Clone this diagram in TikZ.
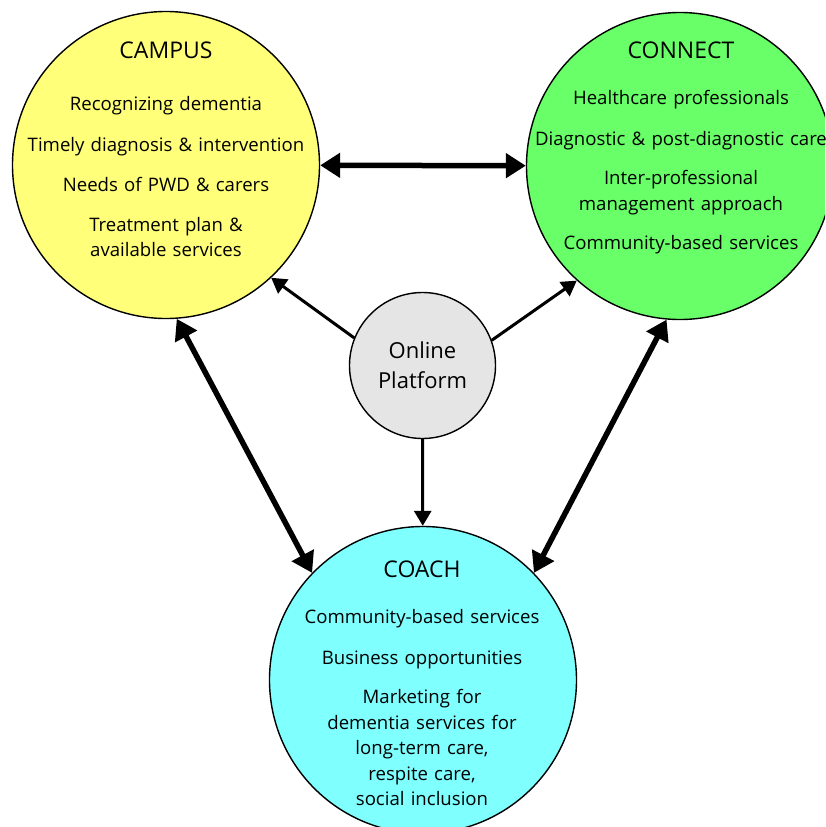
\documentclass[tikz,border=0pt]{standalone}
\usepackage{fontspec}
\setmainfont{Open Sans}
\usetikzlibrary{arrows.meta}
\definecolor{campusyellow}{RGB}{255,255,122}
\definecolor{connectgreen}{RGB}{104,255,104}
\definecolor{coachcyan}{RGB}{128,255,255}
\definecolor{platformgray}{RGB}{229,229,229}
\newcommand{\hubtitle}[1]{{\fontsize{23}{25}\selectfont #1}}
\begin{document}
\begin{tikzpicture}[x=1pt, y=-1pt,
  every node/.style={align=center, font=\fontsize{18.6}{25.5}\selectfont},
  hub/.style={draw, circle, line width=1.4pt, minimum size=307pt, inner sep=0pt},
  hubtext/.style={anchor=base, text width=360pt, inner sep=0pt},
  bigarrow/.style={{Triangle[length=20pt,width=24pt]}-{Triangle[length=20pt,width=24pt]}, line width=5.5pt},
  smallarrow/.style={-{Triangle[length=15pt,width=17pt]}, line width=3pt}]
\useasboundingbox (0,0) rectangle (825,827);
\clip (0,0) rectangle (825,827);

% the three programme circles and the platform
\node (campus) [hub, fill=campusyellow] at (166,165) {};
\node (connect) [hub, fill=connectgreen] at (680,166) {};
\node (coach) [hub, fill=coachcyan] at (423,680) {};
\node (online) [draw, circle, line width=1.4pt, fill=platformgray, minimum size=146pt, inner sep=0pt,
  font=\fontsize{22}{30}\selectfont] at (422.5,365.5) {Online\\Platform};

\node (campustext) [hubtext] at (166,58) {\hubtitle{CAMPUS}\\[27pt]Recognizing dementia\\[15pt]Timely diagnosis \& intervention\\[15pt]Needs of PWD \& carers\\[14pt]Treatment plan \&\\available services};
\node (connecttext) [hubtext] at (681,58) {\hubtitle{CONNECT}\\[21pt]Healthcare professionals\\[15pt]Diagnostic \& post-diagnostic care\\[14pt]Inter-professional\\management approach\\[14pt]Community-based services};
\node (coachtext) [hubtext] at (422,577) {\hubtitle{COACH}\\[21pt]Community-based services\\[15pt]Business opportunities\\[14pt]Marketing for\\dementia services for\\long-term care,\\respite care,\\social inclusion};

% links
\draw[bigarrow] (campus) -- (connect);
\draw[bigarrow] (campus.-86) -- (coach.136);
\draw[bigarrow] (connect.-95) -- (coach.44);
\draw[smallarrow] (online.158) -- (campus.-47);
\draw[smallarrow] (online.20) -- (connect.-132);
\draw[smallarrow] (online) -- (coach);
\end{tikzpicture}
\end{document}
